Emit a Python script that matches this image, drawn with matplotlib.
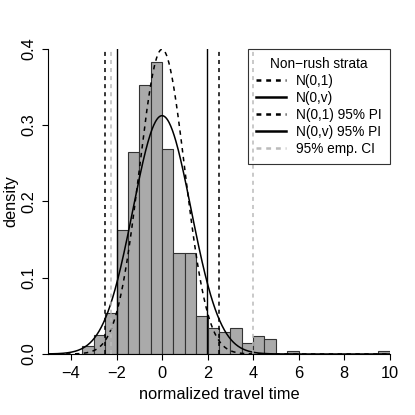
import numpy as np
import matplotlib
matplotlib.use("Agg")
import matplotlib.pyplot as plt
from matplotlib.lines import Line2D

plt.rcParams['font.family'] = ['Liberation Sans', 'DejaVu Sans']
plt.rcParams['lines.scale_dashes'] = False

# ---- data ----
bin_left = [-3.5, -3.0, -2.5, -2.0, -1.5, -1.0, -0.5, 0.0, 0.5, 1.0, 1.5,
            2.0, 2.5, 3.0, 3.5, 4.0, 4.5, 5.5, 9.5]
density = [0.010, 0.025, 0.054, 0.162, 0.264, 0.352, 0.382, 0.268, 0.132,
           0.132, 0.050, 0.034, 0.029, 0.034, 0.014, 0.024, 0.019, 0.0044, 0.0044]
bin_width = 0.5
v_var = 1.634            # variance of N(0,v)
pi_n01 = [-1.96, 1.96]   # drawn solid in the reference
pi_n0v = [-2.505, 2.505] # drawn dashed in the reference
emp_ci = [-2.25, 4.0]
xticks = [-4, -2, 0, 2, 4, 6, 8, 10]
yticks = [0.0, 0.1, 0.2, 0.3, 0.4]
legend_labels = ["N(0,1)", "N(0,v)", "N(0,1) 95% PI", "N(0,v) 95% PI", "95% emp. CI"]
legend_title = "Non\u2212rush strata"

fig = plt.figure(figsize=(4.15, 4.15), dpi=100)
ax = fig.add_axes([0.1164, 0.147, 0.8222, 0.7361])

ax.bar(bin_left, density, width=bin_width, align='edge',
       color='#aaaaaa', edgecolor='#333333', linewidth=0.8, zorder=2)

xs = np.linspace(-5, 10, 600)
n01 = np.exp(-xs**2 / 2) / np.sqrt(2 * np.pi)
n0v = np.exp(-xs**2 / (2 * v_var)) / np.sqrt(2 * np.pi * v_var)
ax.plot(xs, n01, color='black', lw=1.1, dashes=(3.2, 3.2), zorder=3)
ax.plot(xs, n0v, color='black', lw=1.1, zorder=3)

for xv in pi_n01:
    ax.axvline(xv, color='black', lw=1.0, zorder=3)
for xv in pi_n0v:
    ax.axvline(xv, color='black', lw=1.1, dashes=(2.9, 2.9), zorder=3)
for xv in emp_ci:
    ax.axvline(xv, color='#bbbbbb', lw=1.1, dashes=(2.9, 2.9), zorder=3)

ax.set_xlim(-5, 10)
ax.set_ylim(0, 0.4)
ax.spines['top'].set_visible(False)
ax.spines['right'].set_visible(False)
ax.spines['left'].set_bounds(0, 0.4)
ax.spines['bottom'].set_bounds(-5, 10)
ax.set_xticks(xticks)
ax.set_xticklabels([str(t).replace('-', '\u2212') for t in xticks])
ax.set_yticks(yticks)
ax.set_yticklabels([f"{t:.1f}" for t in yticks], rotation=90, va='center')
ax.tick_params(axis='both', direction='out', length=4.3, width=0.8,
               labelsize=11.8, pad=4.0)
ax.set_xlabel("normalized travel time", fontsize=11.8, labelpad=5)
ax.set_ylabel("density", fontsize=11.8, labelpad=2.5)

handles = [
    Line2D([], [], color='black', lw=1.8, dashes=(3.5, 3.5)),
    Line2D([], [], color='black', lw=1.8),
    Line2D([], [], color='black', lw=1.8, dashes=(3.5, 3.5)),
    Line2D([], [], color='black', lw=1.8),
    Line2D([], [], color='#bbbbbb', lw=1.8, dashes=(3.5, 3.5)),
]
leg = ax.legend(handles, legend_labels, title=legend_title, loc='upper right',
                bbox_to_anchor=(1.0, 1.0), borderaxespad=0, fontsize=9.8,
                title_fontsize=9.8, frameon=True, fancybox=False,
                handlelength=2.2, handletextpad=0.7, labelspacing=0.22,
                borderpad=0.6)
frame = leg.get_frame()
frame.set_facecolor('none')
frame.set_edgecolor('#333333')
frame.set_alpha(None)
frame.set_linewidth(0.8)

fig.savefig("out.png", dpi=100)
